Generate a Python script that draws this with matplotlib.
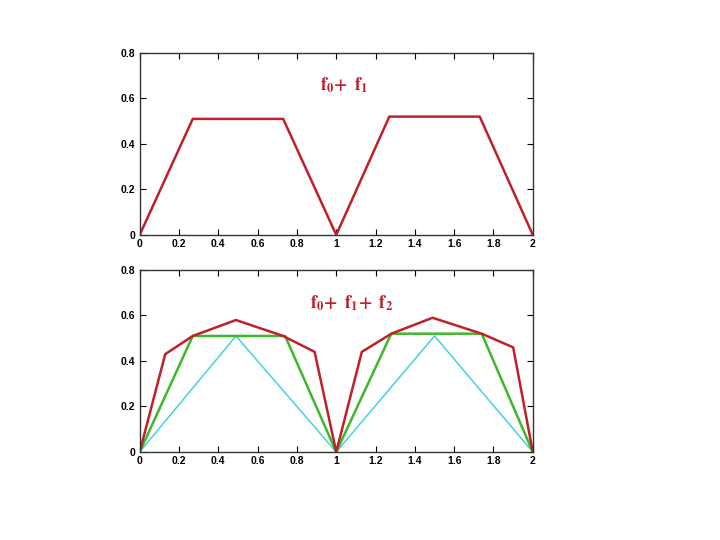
import matplotlib.pyplot as plt
from matplotlib.ticker import FuncFormatter

plt.rcParams['mathtext.fontset'] = 'stix'
plt.rcParams['font.family'] = ['Liberation Sans', 'DejaVu Sans']

# f0 + f1 (top panel)
top_x = [0, 0.27, 0.73, 1.0, 1.27, 1.73, 2.0]
top_y = [0, 0.51, 0.51, 0.0, 0.52, 0.52, 0.0]

# f0 + f1 + f2 (bottom panel)
red_x = [0, 0.13, 0.27, 0.49, 0.73, 0.89, 1.0, 1.13, 1.28, 1.49, 1.74, 1.90, 2.0]
red_y = [0, 0.43, 0.51, 0.58, 0.51, 0.44, 0.0, 0.44, 0.52, 0.59, 0.52, 0.46, 0.0]
green_x = [0, 0.27, 0.74, 1.0, 1.28, 1.74, 2.0]
green_y = [0, 0.51, 0.51, 0.0, 0.52, 0.52, 0.0]
cyan_x = [0, 0.49, 1.0, 1.5, 2.0]
cyan_y = [0, 0.51, 0.0, 0.51, 0.0]

xticks = [0, 0.2, 0.4, 0.6, 0.8, 1, 1.2, 1.4, 1.6, 1.8, 2]
yticks = [0, 0.2, 0.4, 0.6, 0.8]

red = '#c0202a'
green = '#3cb82a'
cyan = '#48d0e0'

fig = plt.figure(figsize=(7.2, 5.4), dpi=100)
ax1 = fig.add_axes([0.194, 0.565, 0.546, 0.337])
ax2 = fig.add_axes([0.194, 0.163, 0.546, 0.337])

ax1.plot(top_x, top_y, color=red, lw=1.8)
ax2.plot(cyan_x, cyan_y, color=cyan, lw=1.1)
ax2.plot(green_x, green_y, color=green, lw=1.8)
ax2.plot(red_x, red_y, color=red, lw=1.8)

ax1.text(1.04, 0.66, r'$\mathbf{f_0\!+\ f_1}$', color=red, fontsize=13,
         ha='center', va='center')
ax2.text(1.08, 0.655, r'$\mathbf{f_0\!+\ f_1\!+\ f_2}$', color=red, fontsize=13,
         ha='center', va='center')

fmt = FuncFormatter(lambda v, p: '%g' % round(v, 2))
for ax in (ax1, ax2):
    ax.set_xlim(0, 2)
    ax.set_ylim(0, 0.8)
    ax.set_xticks(xticks)
    ax.set_yticks(yticks)
    ax.xaxis.set_major_formatter(fmt)
    ax.yaxis.set_major_formatter(fmt)
    ax.tick_params(direction='in', top=True, right=True, length=4, labelsize=7.5, pad=3)
    for lab in ax.get_xticklabels() + ax.get_yticklabels():
        lab.set_fontweight('bold')
    for s in ax.spines.values():
        s.set_linewidth(1.0)
        s.set_color('#333333')

fig.savefig('out.png', dpi=100, facecolor='white')
